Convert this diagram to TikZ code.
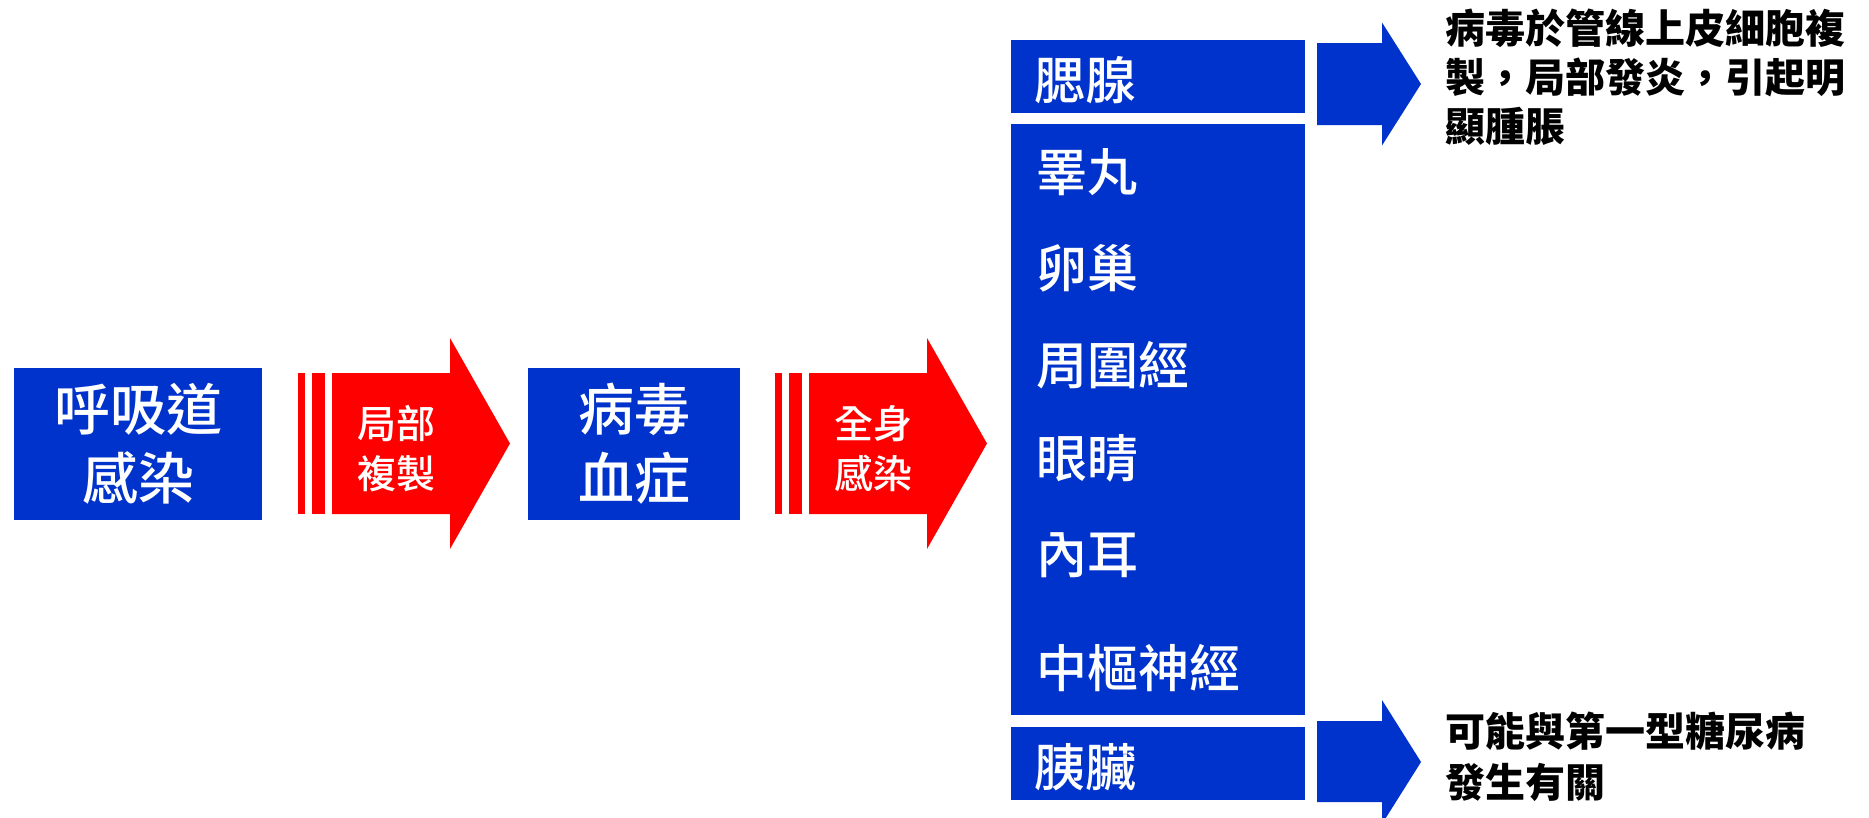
\documentclass[tikz,border=0pt]{standalone}
\usepackage{fontspec}
\setmainfont{Noto Sans CJK TC}
\newfontfamily\cjkmid{Noto Sans CJK TC Medium}
\usepackage{tikz}
\definecolor{boxblue}{RGB}{0,51,204}
\definecolor{arrowred}{RGB}{255,0,0}

\begin{document}
\begin{tikzpicture}[x=1pt, y=-1pt]
				\tikzstyle{stagebox}=[fill=boxblue, draw=none, text=white, align=center, inner sep=0pt, font=\cjkmid\fontsize{56}{69}\selectfont]
				\tikzstyle{organbox}=[fill=boxblue, draw=none, minimum width=294, inner sep=0pt]
				\tikzstyle{organtext}=[text=white, anchor=west, inner sep=0pt, font=\cjkmid\fontsize{51}{60}\selectfont]
				\tikzstyle{steptext}=[text=white, align=center, inner sep=0pt, font=\cjkmid\fontsize{39}{50}\selectfont]
				\tikzstyle{notetext}=[text=black, anchor=west, align=left, inner sep=0pt]
				
				\useasboundingbox (0,0) rectangle (1869,817);
				
				% stages
				\node (s0) at (138,444) [stagebox, minimum width=248, minimum height=152] {呼吸道\\感染};
				\node (s1) at (634,444) [stagebox, minimum width=212, minimum height=152] {病毒\\血症};
				
				% red arrows
				\fill [arrowred] (298,373) rectangle (305,514);
				\fill [arrowred] (312,373) rectangle (325,514);
				\fill [arrowred] (332,373) -- (450,373) -- (450,338) -- (510,443.5) -- (450,549) -- (450,514) -- (332,514) -- cycle;
				\fill [arrowred] (775,373) rectangle (782,514);
				\fill [arrowred] (789,373) rectangle (802,514);
				\fill [arrowred] (809,373) -- (927,373) -- (927,338) -- (987,443.5) -- (927,549) -- (927,514) -- (809,514) -- cycle;
				
				\node (r0) at (396,449) [steptext] {局部\\複製};
				\node (r1) at (873,449) [steptext] {全身\\感染};
				
				% organs
				\node (g0) at (1158,76.5) [organbox, minimum height=73] {};
				\node (g1) at (1158,419.5) [organbox, minimum height=591] {};
				\node (g2) at (1158,763.5) [organbox, minimum height=73] {};
				
				\node (o0) at (1034,80) [organtext] {腮腺};
				\node (o1) at (1036,172) [organtext] {睪丸};
				\node (o2) at (1036,268) [organtext] {卵巢};
				\node (o3) at (1036,365) [organtext] {周圍經};
				\node (o4) at (1036,458) [organtext] {眼睛};
				\node (o5) at (1036,555) [organtext] {內耳};
				\node (o6) at (1036,668) [organtext] {中樞神經};
				\node (o7) at (1034,767) [organtext] {胰臟};
				
				% blue arrows
				\fill [boxblue] (1317,43) -- (1382,43) -- (1382,22.5) -- (1421,84) -- (1382,145.5) -- (1382,125) -- (1317,125) -- cycle;
				\fill [boxblue] (1317,721) -- (1382,721) -- (1382,700) -- (1421,762) -- (1382,824) -- (1382,802) -- (1317,802) -- cycle;
				
				\node (n0) at (1445,77.5) [notetext, font=\bfseries\fontsize{40}{49}\selectfont] {病毒於管線上皮細胞複\\製，局部發炎，引起明\\顯腫脹};
				\node (n1) at (1445,757) [notetext, font=\bfseries\fontsize{40}{51}\selectfont] {可能與第一型糖尿病\\發生有關};
				
\end{tikzpicture}
\end{document}
